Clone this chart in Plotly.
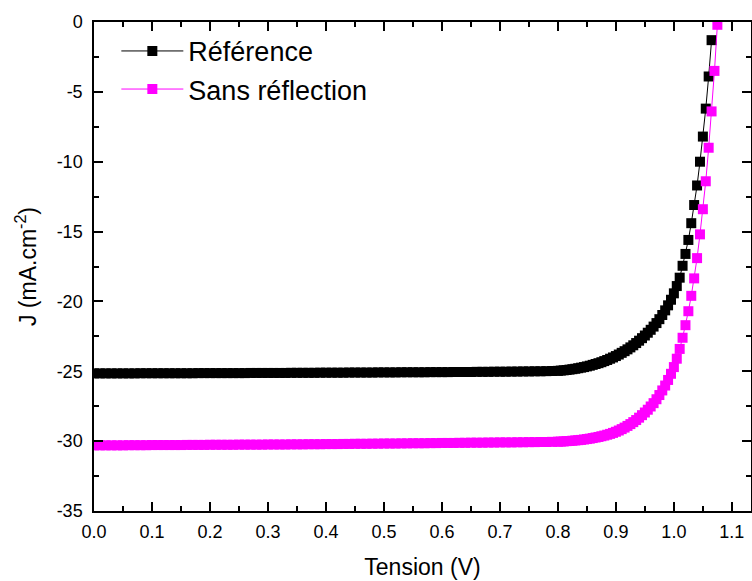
import plotly.graph_objects as go

# Tension (V) - shared sampling for both curves
tension = [
    0.00, 0.01, 0.02, 0.03, 0.04, 0.05, 0.06, 0.07, 0.08, 0.09,
    0.10, 0.11, 0.12, 0.13, 0.14, 0.15, 0.16, 0.17, 0.18, 0.19,
    0.20, 0.21, 0.22, 0.23, 0.24, 0.25, 0.26, 0.27, 0.28, 0.29,
    0.30, 0.31, 0.32, 0.33, 0.34, 0.35, 0.36, 0.37, 0.38, 0.39,
    0.40, 0.41, 0.42, 0.43, 0.44, 0.45, 0.46, 0.47, 0.48, 0.49,
    0.50, 0.51, 0.52, 0.53, 0.54, 0.55, 0.56, 0.57, 0.58, 0.59,
    0.60, 0.61, 0.62, 0.63, 0.64, 0.65, 0.66, 0.67, 0.68, 0.69,
    0.70, 0.71, 0.72, 0.73, 0.74, 0.75, 0.76, 0.77, 0.78, 0.79,
    0.800, 0.805, 0.810, 0.815, 0.820, 0.825, 0.830, 0.835, 0.840, 0.845,
    0.850, 0.855, 0.860, 0.865, 0.870, 0.875, 0.880, 0.885, 0.890, 0.895,
    0.900, 0.905, 0.910, 0.915, 0.920, 0.925, 0.930, 0.935, 0.940, 0.945,
    0.950, 0.955, 0.960, 0.965, 0.970, 0.975, 0.980, 0.985, 0.990, 0.995,
    1.000, 1.005, 1.010, 1.015, 1.020, 1.025, 1.030, 1.035, 1.040, 1.045,
    1.050, 1.055, 1.060, 1.065, 1.070, 1.075,
]

# J (mA/cm2) - reference cell
j_reference = [
    -25.15, -25.15, -25.15, -25.15, -25.15, -25.15, -25.15, -25.15, -25.14, -25.14,
    -25.14, -25.14, -25.14, -25.14, -25.14, -25.14, -25.14, -25.14, -25.13, -25.13,
    -25.13, -25.13, -25.13, -25.13, -25.13, -25.13, -25.13, -25.12, -25.12, -25.12,
    -25.12, -25.12, -25.12, -25.12, -25.11, -25.11, -25.11, -25.11, -25.11, -25.10,
    -25.10, -25.10, -25.10, -25.10, -25.09, -25.09, -25.09, -25.09, -25.09, -25.08,
    -25.08, -25.08, -25.08, -25.07, -25.07, -25.07, -25.07, -25.07, -25.06, -25.06,
    -25.06, -25.06, -25.05, -25.05, -25.05, -25.05, -25.04, -25.04, -25.04, -25.03,
    -25.03, -25.03, -25.02, -25.02, -25.01, -25.01, -25.00, -25.00, -24.99, -24.98,
    -24.97, -24.95, -24.93, -24.91, -24.88, -24.85, -24.82, -24.78, -24.74, -24.70,
    -24.65, -24.60, -24.54, -24.48, -24.42, -24.35, -24.27, -24.19, -24.10, -24.01,
    -23.91, -23.80, -23.68, -23.56, -23.43, -23.29, -23.14, -22.98, -22.81, -22.63,
    -22.44, -22.24, -22.03, -21.80, -21.55, -21.27, -20.97, -20.64, -20.28, -19.88,
    -19.42, -18.90, -18.30, -17.45, -16.60, -15.60, -14.40, -13.10, -11.70, -10.00,
    -8.20, -6.20, -3.90, -1.30, None, None,
]

# J (mA/cm2) - without reflection
j_sans_reflection = [
    -30.30, -30.30, -30.30, -30.30, -30.30, -30.30, -30.29, -30.29, -30.29, -30.29,
    -30.28, -30.28, -30.28, -30.28, -30.28, -30.28, -30.27, -30.27, -30.27, -30.27,
    -30.26, -30.26, -30.26, -30.26, -30.26, -30.25, -30.25, -30.25, -30.25, -30.25,
    -30.24, -30.24, -30.24, -30.24, -30.23, -30.23, -30.23, -30.22, -30.22, -30.22,
    -30.21, -30.21, -30.21, -30.20, -30.20, -30.19, -30.19, -30.19, -30.18, -30.18,
    -30.17, -30.17, -30.17, -30.16, -30.16, -30.15, -30.15, -30.15, -30.14, -30.14,
    -30.13, -30.13, -30.13, -30.12, -30.12, -30.11, -30.11, -30.11, -30.10, -30.10,
    -30.09, -30.09, -30.09, -30.08, -30.08, -30.07, -30.07, -30.06, -30.06, -30.05,
    -30.04, -30.03, -30.02, -30.00, -29.99, -29.97, -29.95, -29.93, -29.91, -29.88,
    -29.85, -29.82, -29.78, -29.74, -29.70, -29.65, -29.60, -29.54, -29.48, -29.41,
    -29.33, -29.24, -29.14, -29.03, -28.91, -28.78, -28.64, -28.49, -28.32, -28.14,
    -27.95, -27.75, -27.52, -27.28, -27.00, -26.70, -26.37, -26.02, -25.62, -25.18,
    -24.70, -24.10, -23.40, -22.60, -21.70, -20.70, -19.60, -18.35, -16.90, -15.20,
    -13.40, -11.40, -9.00, -6.40, -3.50, -0.20,
]

x_ticks = [0.0, 0.1, 0.2, 0.3, 0.4, 0.5, 0.6, 0.7, 0.8, 0.9, 1.0, 1.1]
y_ticks = [0, -5, -10, -15, -20, -25, -30, -35]

FONT = "Liberation Sans, Arial, sans-serif"

fig = go.Figure()
fig.add_trace(go.Scatter(
    x=tension, y=j_reference, mode="lines+markers", name="Référence",
    line=dict(color="black", width=1),
    marker=dict(symbol="square", size=10, color="black"),
))
fig.add_trace(go.Scatter(
    x=tension, y=j_sans_reflection, mode="lines+markers", name="Sans réflection",
    line=dict(color="#ff00ff", width=1),
    marker=dict(symbol="square", size=10, color="#ff00ff"),
))

axis_style = dict(
    showline=True, linecolor="black", linewidth=1.5, mirror="ticks",
    ticks="inside", ticklen=9, tickwidth=1.5, tickcolor="black",
    showgrid=False, zeroline=False, automargin=False,
    tickfont=dict(family=FONT, size=18, color="black"),
)

fig.update_layout(
    width=752, height=581,
    margin=dict(l=94, r=1, t=22, b=70),
    paper_bgcolor="white", plot_bgcolor="white",
    font=dict(family=FONT, color="black"),
    xaxis=dict(
        range=[0, 1.133], tickvals=x_ticks,
        ticktext=[f"{v:.1f}" for v in x_ticks],
        ticklabelstandoff=4,
        minor=dict(dtick=0.05, ticks="inside", ticklen=5, tickwidth=1.5, tickcolor="black"),
        title=dict(text="Tension (V)", font=dict(family=FONT, size=23), standoff=18),
        **axis_style,
    ),
    yaxis=dict(
        range=[-35, 0], tickvals=y_ticks,
        ticktext=[str(v) for v in y_ticks],
        ticklabelstandoff=6,
        minor=dict(dtick=2.5, ticks="inside", ticklen=5, tickwidth=1.5, tickcolor="black"),
        title=dict(text="J (mA.cm<sup>-2</sup>)", font=dict(family=FONT, size=23), standoff=14),
        **axis_style,
    ),
    legend=dict(
        x=0.034, y=0.99, xanchor="left", yanchor="top",
        bgcolor="rgba(0,0,0,0)", itemwidth=62,
        font=dict(family=FONT, size=27, color="black"),
        tracegroupgap=0,
    ),
)

# page has an 8px body margin by default, drop it so the figure fills the window
fix_page = (
    "document.body.style.margin='0px';"
    "document.body.style.overflow='hidden';"
    "var gd=document.getElementById('{plot_id}');"
    "Plotly.relayout(gd,{width:752,height:581});"
)
fig.write_html("out.html", config={"responsive": False, "displayModeBar": False},
               post_script=fix_page)
